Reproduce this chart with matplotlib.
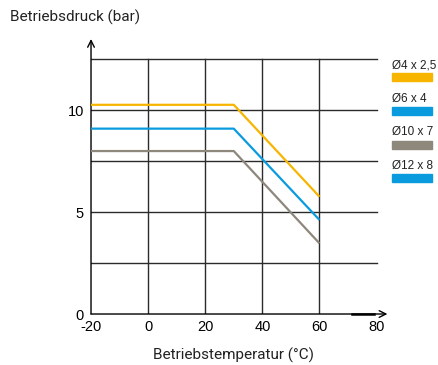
import numpy as np
import matplotlib
matplotlib.use("Agg")
import matplotlib.pyplot as plt

# pressure vs. temperature curves per tube size
temps = [-20, 30, 60]
sizes = ["Ø4 x 2,5", "Ø6 x 4", "Ø10 x 7", "Ø12 x 8"]
p_4x25 = [10.27, 10.27, 5.76]
p_6x4 = [9.1, 9.1, 4.62]
p_10x7 = [8.0, 8.0, 3.47]
p_12x8 = [9.1, 9.1, 4.62]
pressures = [p_4x25, p_6x4, p_10x7, p_12x8]
colors = ["#F7B500", "#0A9BDF", "#8E877C", "#0A9BDF"]

xticks = [-20, 0, 20, 40, 60, 80]
yticks = [0, 5, 10]
xgrid = [0, 20, 40, 60]
ygrid = [2.5, 5, 7.5, 10, 12.5]

fig = plt.figure(figsize=(4.38, 3.65), dpi=100)
ax = fig.add_axes([0.2078, 0.1397, 0.6845, 0.759])
ax.set_xlim(-20, 85)
ax.set_ylim(0, 13.6)
for s in ax.spines.values():
    s.set_visible(False)

gc = "#2b2b2b"
for g in xgrid:
    ax.plot([g, g], [0, 12.5], color=gc, lw=1.0, zorder=1)
for g in ygrid:
    ax.plot([-20, 80], [g, g], color=gc, lw=1.0, zorder=1)

# axes with open arrow heads
ax.annotate("", xy=(-20, 13.5), xytext=(-20, 0),
            arrowprops=dict(arrowstyle="->", color="black", lw=1.0,
                            shrinkA=0, shrinkB=0, mutation_scale=12))
ax.annotate("", xy=(83.8, 0), xytext=(-20, 0),
            arrowprops=dict(arrowstyle="->", color="black", lw=1.0,
                            shrinkA=0, shrinkB=0, mutation_scale=12))
ax.plot([71.5, 79], [0, 0], color="black", lw=1.8, zorder=3, clip_on=False)

for name, p, c in zip(sizes[:3], pressures[:3], colors[:3]):
    ax.plot(temps, p, color=c, lw=1.6, zorder=4, solid_capstyle="butt")

ax.set_xticks(xticks)
ax.set_yticks(yticks)
ax.set_xticklabels([str(t) for t in xticks], family="Liberation Sans", fontsize=10.5)
ax.set_yticklabels([str(t) for t in yticks], family="Liberation Sans", fontsize=10.5)
ax.tick_params(length=0, pad=4)
ax.tick_params(axis="y", pad=5)

fig.text(10 / 438, 1 - 17 / 365, "Betriebsdruck (bar)", fontsize=11,
         family="Roboto", color="#222222", va="center", ha="left")
fig.text(233 / 438, 1 - 355 / 365, "Betriebstemperatur (°C)", fontsize=11,
         family="Roboto", color="#222222", va="center", ha="center")

# legend at right: label with a colour bar below
text_y = [66, 99, 132, 166]
bar_y = [77, 111, 145, 178]
for name, c, ty, by in zip(sizes, colors, text_y, bar_y):
    fig.text(392 / 438, 1 - ty / 365, name, fontsize=8.5,
             family="Liberation Sans", color="#222222", va="center", ha="left")
    fig.patches.append(plt.Rectangle((392 / 438, 1 - (by + 4) / 365), 40 / 438, 8 / 365,
                                     transform=fig.transFigure, color=c))

fig.savefig("out.png", dpi=100)
